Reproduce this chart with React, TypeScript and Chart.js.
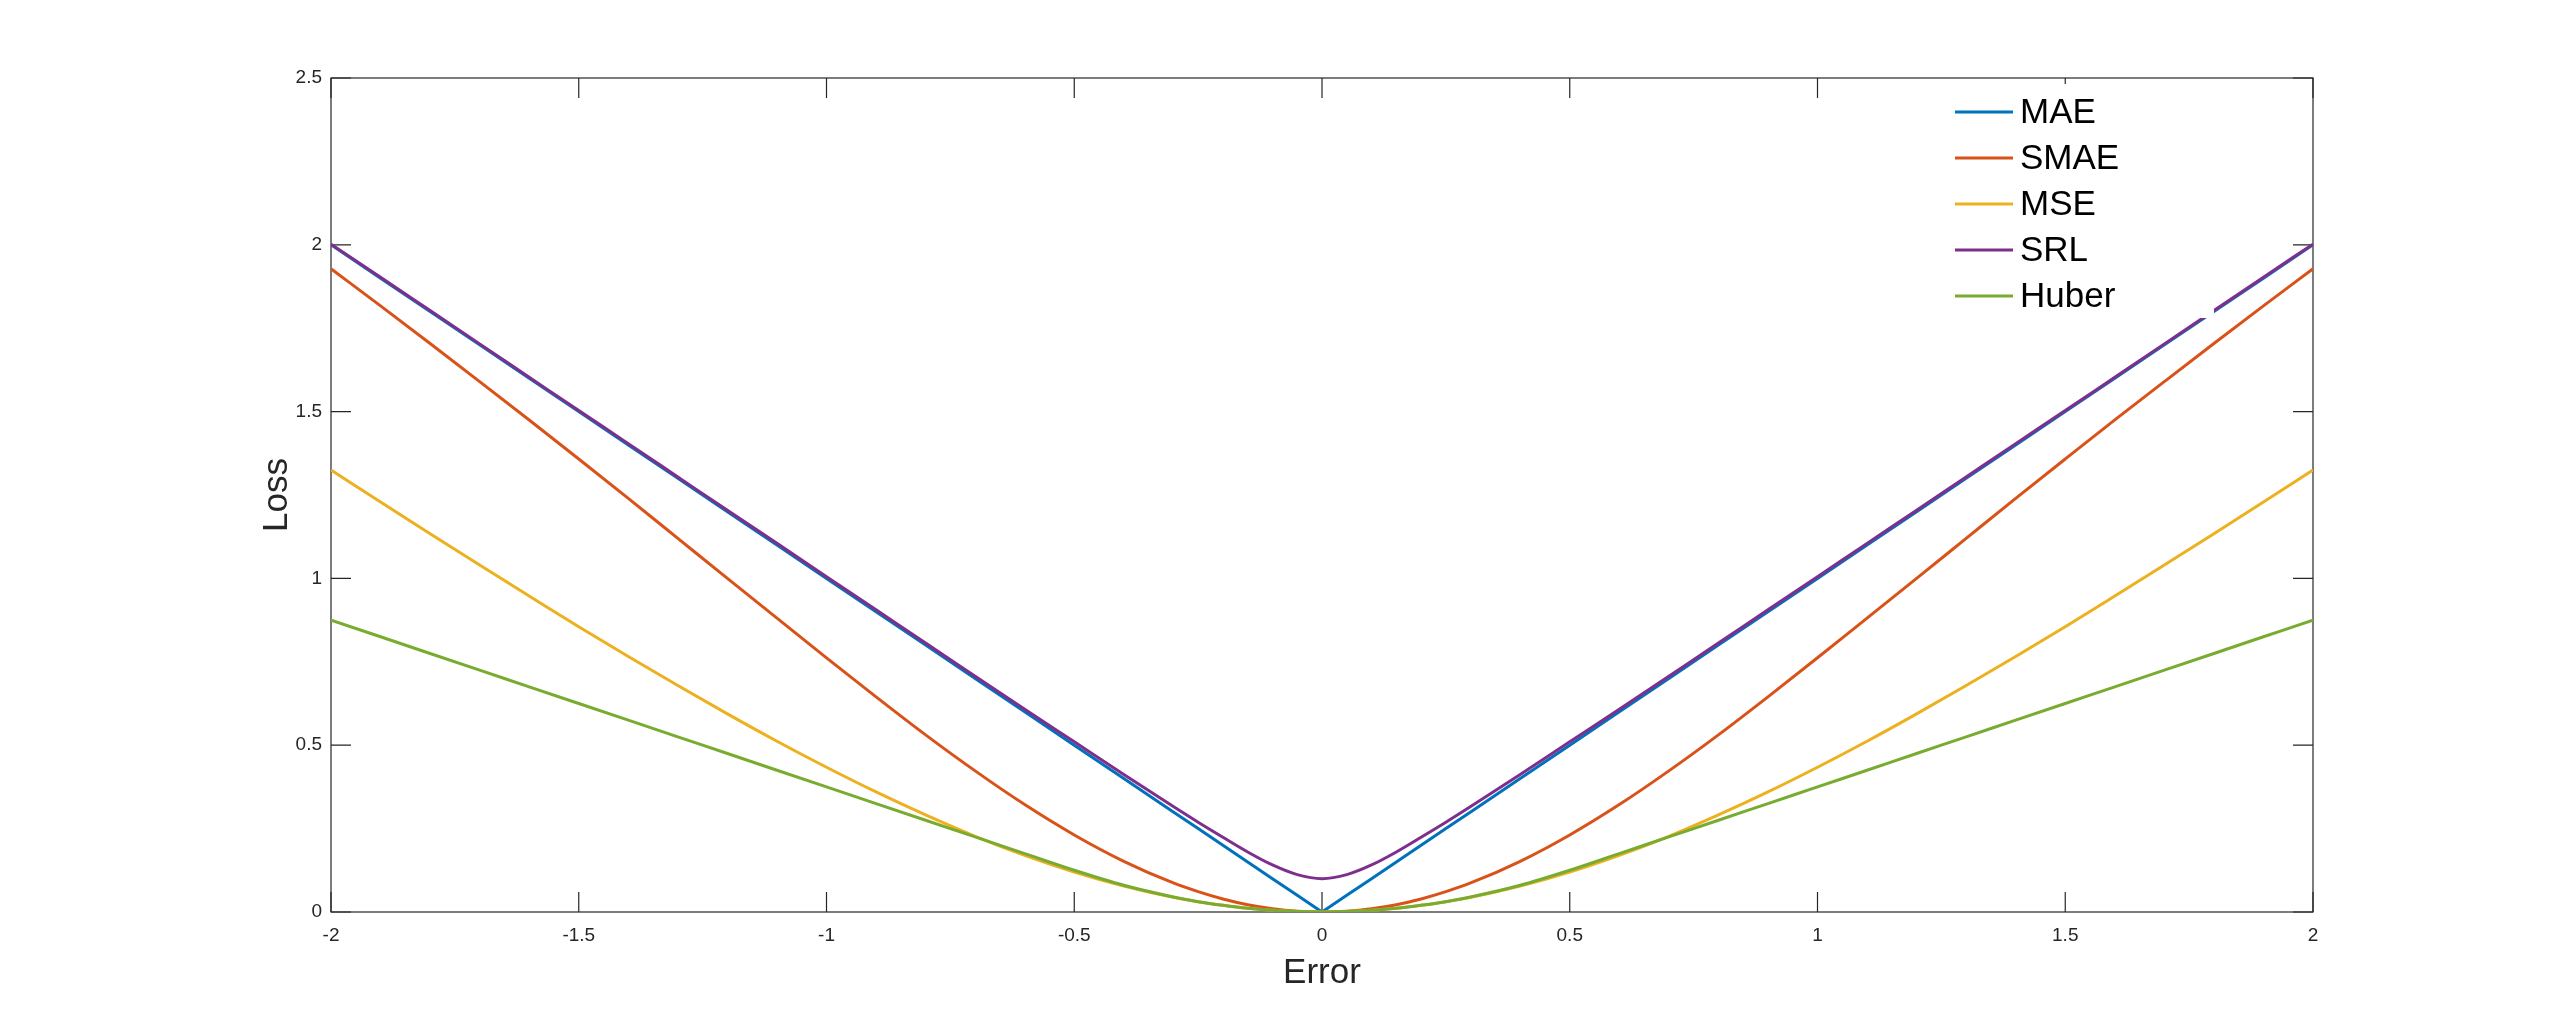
import React, { useEffect, useRef } from "react";
import { Chart, registerables } from "chart.js";

Chart.register(...registerables);

const xValues = [
  -2, -1.9, -1.8, -1.7, -1.6, -1.5, -1.4, -1.3, -1.2, -1.1, -1, -0.9, -0.8, -0.7, -0.6, -0.5, -0.4, -0.3, -0.25, -0.2, -0.15, -0.1, -0.05,
  0, 0.05, 0.1, 0.15, 0.2, 0.25, 0.3, 0.4, 0.5, 0.6, 0.7, 0.8, 0.9, 1, 1.1, 1.2, 1.3, 1.4, 1.5, 1.6, 1.7, 1.8, 1.9, 2,
];

const maeValues = [
  2, 1.9, 1.8, 1.7, 1.6, 1.5, 1.4, 1.3, 1.2, 1.1, 1, 0.9, 0.8, 0.7, 0.6, 0.5, 0.4, 0.3, 0.25, 0.2, 0.15, 0.1, 0.05,
  0, 0.05, 0.1, 0.15, 0.2, 0.25, 0.3, 0.4, 0.5, 0.6, 0.7, 0.8, 0.9, 1, 1.1, 1.2, 1.3, 1.4, 1.5, 1.6, 1.7, 1.8, 1.9, 2,
];

const smaeValues = [
  1.928, 1.817, 1.704, 1.59, 1.475, 1.358, 1.24, 1.12, 1.0, 0.881, 0.762, 0.645, 0.531, 0.423, 0.322, 0.231, 0.152, 0.087, 0.061, 0.039, 0.022, 0.01, 0.0025,
  0, 0.0025, 0.01, 0.022, 0.039, 0.061, 0.087, 0.152, 0.231, 0.322, 0.423, 0.531, 0.645, 0.762, 0.881, 1.0, 1.12, 1.24, 1.358, 1.475, 1.59, 1.704, 1.817, 1.928,
];

const mseValues = [
  1.325, 1.229, 1.134, 1.04, 0.947, 0.855, 0.766, 0.679, 0.594, 0.512, 0.434, 0.36, 0.291, 0.227, 0.17, 0.12, 0.078, 0.044, 0.031, 0.02, 0.011, 0.005, 0.0013,
  0, 0.0013, 0.005, 0.011, 0.02, 0.031, 0.044, 0.078, 0.12, 0.17, 0.227, 0.291, 0.36, 0.434, 0.512, 0.594, 0.679, 0.766, 0.855, 0.947, 1.04, 1.134, 1.229, 1.325,
];

const srlValues = [
  2.002, 1.903, 1.803, 1.703, 1.603, 1.503, 1.404, 1.304, 1.204, 1.105, 1.005, 0.906, 0.806, 0.707, 0.608, 0.51, 0.412, 0.316, 0.269, 0.224, 0.18, 0.141, 0.112,
  0.1, 0.112, 0.141, 0.18, 0.224, 0.269, 0.316, 0.412, 0.51, 0.608, 0.707, 0.806, 0.906, 1.005, 1.105, 1.204, 1.304, 1.404, 1.503, 1.603, 1.703, 1.803, 1.903, 2.002,
];

const huberValues = [
  0.875, 0.825, 0.775, 0.725, 0.675, 0.625, 0.575, 0.525, 0.475, 0.425, 0.375, 0.325, 0.275, 0.225, 0.175, 0.125, 0.08, 0.045, 0.031, 0.02, 0.011, 0.005, 0.0013,
  0, 0.0013, 0.005, 0.011, 0.02, 0.031, 0.045, 0.08, 0.125, 0.175, 0.225, 0.275, 0.325, 0.375, 0.425, 0.475, 0.525, 0.575, 0.625, 0.675, 0.725, 0.775, 0.825, 0.875,
];

const seriesLabels = ["MAE", "SMAE", "MSE", "SRL", "Huber"];
const seriesValues = [maeValues, smaeValues, mseValues, srlValues, huberValues];
const seriesColors = ["#0072BD", "#D95319", "#EDB120", "#7E2F8E", "#77AC30"];

const xTicks = [-2, -1.5, -1, -0.5, 0, 0.5, 1, 1.5, 2];
const xTickLabels = ["-2", "-1.5", "-1", "-0.5", "0", "0.5", "1", "1.5", "2"];
const yTicks = [0, 0.5, 1, 1.5, 2, 2.5];
const yTickLabels = ["0", "0.5", "1", "1.5", "2", "2.5"];

const FONT = '"Liberation Sans", Arial, Helvetica, sans-serif';
const AXIS_COLOR = "#262626";

const boxPlugin = {
  id: "matlabBox",
  beforeDatasetsDraw(chart: any) {
    const { ctx, chartArea: a, scales } = chart;
    ctx.save();
    ctx.strokeStyle = AXIS_COLOR;
    ctx.lineWidth = 1.2;
    ctx.strokeRect(a.left, a.top, a.right - a.left, a.bottom - a.top);
    const tl = 20;
    ctx.beginPath();
    xTicks.forEach((v) => {
      const px = scales.x.getPixelForValue(v);
      ctx.moveTo(px, a.bottom);
      ctx.lineTo(px, a.bottom - tl);
      ctx.moveTo(px, a.top);
      ctx.lineTo(px, a.top + tl);
    });
    yTicks.forEach((v) => {
      const py = scales.y.getPixelForValue(v);
      ctx.moveTo(a.left, py);
      ctx.lineTo(a.left + tl, py);
      ctx.moveTo(a.right, py);
      ctx.lineTo(a.right - tl, py);
    });
    ctx.stroke();
    ctx.restore();
  },
};

const legendPlugin = {
  id: "matlabLegend",
  afterDatasetsDraw(chart: any) {
    const { ctx, chartArea: a } = chart;
    ctx.save();
    ctx.fillStyle = "#ffffff";
    ctx.fillRect(a.right - 373, a.top + 6, 274, 234);
    chart.data.datasets.forEach((ds: any, i: number) => {
      const y = a.top + 34 + i * 46;
      ctx.strokeStyle = ds.borderColor;
      ctx.lineWidth = 3;
      ctx.beginPath();
      ctx.moveTo(a.right - 358, y);
      ctx.lineTo(a.right - 300, y);
      ctx.stroke();
      ctx.fillStyle = "#000000";
      ctx.font = `35px ${FONT}`;
      ctx.textBaseline = "middle";
      ctx.textAlign = "left";
      ctx.fillText(ds.label, a.right - 293, y + 1);
    });
    ctx.restore();
  },
};

export default function App() {
  const canvasRef = useRef<HTMLCanvasElement | null>(null);

  useEffect(() => {
    document.body.style.margin = "0";
    document.body.style.overflow = "hidden";
    const canvas = canvasRef.current;
    if (!canvas) return;

    const datasets = seriesLabels.map((label, i) => ({
      label,
      data: xValues.map((x, j) => ({ x, y: seriesValues[i][j] })),
      borderColor: seriesColors[i],
      backgroundColor: seriesColors[i],
      borderWidth: 3,
      pointRadius: 0,
      fill: false,
      order: seriesLabels.length - 1 - i,
      tension: 0,
      cubicInterpolationMode: i === 0 ? "default" : "monotone",
    }));

    const chart = new Chart(canvas, {
      type: "line",
      data: { datasets } as any,
      options: {
        responsive: false,
        animation: false,
        devicePixelRatio: 1,
        layout: { padding: { left: 211, right: 243, top: 78, bottom: 14 } },
        plugins: {
          legend: { display: false },
          tooltip: { enabled: false },
        },
        scales: {
          x: {
            type: "linear",
            min: -2,
            max: 2,
            grid: { display: false, drawTicks: false },
            border: { display: false },
            afterBuildTicks: (s: any) => {
              s.ticks = xTicks.map((v) => ({ value: v }));
            },
            afterFit: (s: any) => {
              s.height = 100;
            },
            ticks: {
              padding: 12,
              color: AXIS_COLOR,
              font: { family: FONT, size: 19 },
              maxRotation: 0,
              autoSkip: false,
              callback: (v: any) => {
                const k = xTicks.indexOf(Number(v));
                return k >= 0 ? xTickLabels[k] : "";
              },
            },
            title: {
              display: true,
              text: "Error",
              color: AXIS_COLOR,
              font: { family: FONT, size: 35 },
              padding: { top: 0, bottom: 18 },
            },
          },
          y: {
            type: "linear",
            min: 0,
            max: 2.5,
            grid: { display: false, drawTicks: false },
            border: { display: false },
            afterBuildTicks: (s: any) => {
              s.ticks = yTicks.map((v) => ({ value: v }));
            },
            afterFit: (s: any) => {
              s.width = 120;
            },
            ticks: {
              padding: 9,
              color: AXIS_COLOR,
              font: { family: FONT, size: 19 },
              autoSkip: false,
              callback: (v: any) => {
                const k = yTicks.indexOf(Number(v));
                return k >= 0 ? yTickLabels[k] : "";
              },
            },
            title: {
              display: true,
              text: "Loss",
              color: AXIS_COLOR,
              font: { family: FONT, size: 35 },
              padding: { top: 45, bottom: 0 },
            },
          },
        },
      } as any,
      plugins: [boxPlugin, legendPlugin],
    });

    return () => {
      chart.destroy();
    };
  }, []);

  return (
    <div style={{ width: 2556, height: 1026, background: "#ffffff" }}>
      <canvas ref={canvasRef} width={2556} height={1026} style={{ display: "block" }} />
    </div>
  );
}
